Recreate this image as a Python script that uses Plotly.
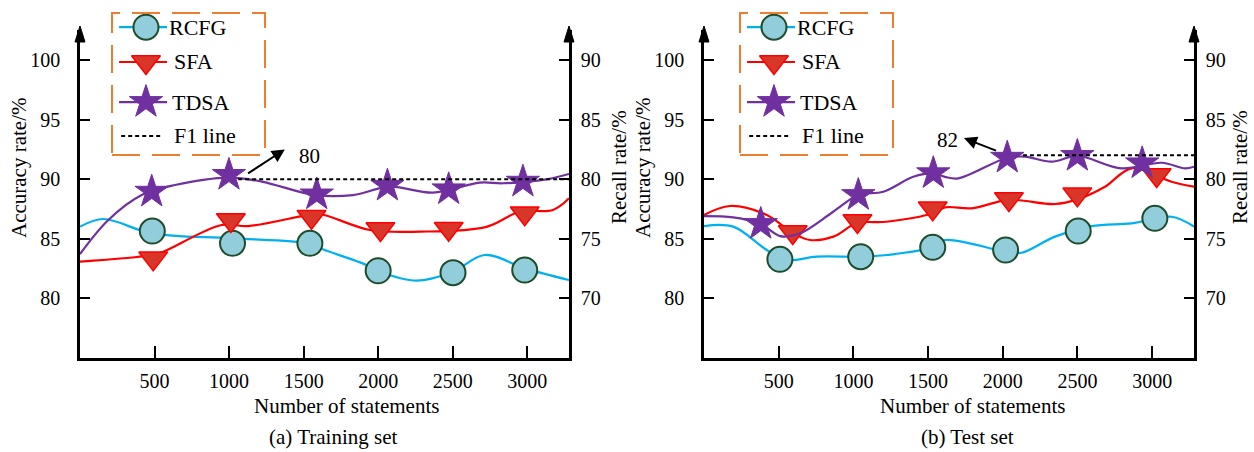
import plotly.graph_objects as go

# ---------------- data ----------------
x_ticks = [500, 1000, 1500, 2000, 2500, 3000]
acc_ticks = [80, 85, 90, 95, 100]
rec_ticks = [70, 75, 80, 85, 90]

# (a) Training set - markers
train_rcfg_x = [485, 1023, 1542, 2000, 2502, 2983]
train_rcfg_y = [85.65, 84.62, 84.62, 82.32, 82.16, 82.38]
train_sfa_x = [491, 1012, 1553, 2015, 2473, 2983]
train_sfa_y = [83.36, 86.58, 86.85, 85.82, 85.85, 87.14]
train_tdsa_x = [481, 999, 1588, 2062, 2473, 2971]
train_tdsa_y = [88.95, 90.36, 88.72, 89.45, 89.15, 89.79]
# (a) Training set - smooth curves
train_rcfg_cx = [0, 156, 481, 1017, 1530, 1609, 1922, 2000, 2257, 2502, 2714, 2983, 3280]
train_rcfg_cy = [86.02, 86.66, 85.46, 85.04, 84.62, 84.2, 82.8, 82.3, 81.49, 82.24, 83.64, 82.52, 81.54]
train_sfa_cx = [0, 481, 558, 950, 1128, 1530, 1609, 1944, 2279, 2726, 2949, 3172, 3280]
train_sfa_cy = [83.08, 83.64, 83.92, 86.16, 86.07, 87.0, 87.08, 85.74, 85.6, 86.0, 87.27, 87.42, 88.4]
train_tdsa_cx = [0, 190, 414, 637, 999, 1218, 1575, 1832, 2078, 2368, 2681, 2837, 3128, 3280]
train_tdsa_cy = [83.72, 86.58, 88.67, 89.51, 90.13, 89.8, 88.67, 88.67, 89.37, 88.87, 89.71, 89.66, 89.99, 90.44]
train_f1_x = [1061, 3280]
train_f1_y = [80, 80]

# (b) Test set - markers
test_rcfg_x = [508, 1049, 1531, 2019, 2505, 3018]
test_rcfg_y = [83.28, 83.5, 84.29, 84.06, 85.65, 86.72]
test_sfa_x = [594, 1027, 1531, 2041, 2499, 3030]
test_sfa_y = [85.57, 86.49, 87.56, 88.34, 88.73, 90.35]
test_tdsa_x = [380, 1033, 1535, 2030, 2499, 2933]
test_tdsa_y = [86.24, 88.67, 90.5, 91.8, 91.95, 91.33]
# (b) Test set - smooth curves
test_rcfg_cx = [0, 196, 420, 553, 754, 1049, 1223, 1531, 1613, 2019, 2126, 2349, 2595, 2863, 3130, 3280]
test_rcfg_cy = [86.07, 86.02, 84.06, 83.22, 83.5, 83.5, 83.64, 84.29, 84.9, 83.92, 83.83, 85.18, 86.07, 86.3, 86.85, 86.02]
test_sfa_cx = [0, 174, 420, 598, 710, 866, 1022, 1223, 1531, 1613, 1792, 2041, 2349, 2499, 2684, 2863, 3130, 3280]
test_sfa_cy = [87.0, 87.75, 87.0, 85.46, 84.9, 85.18, 86.3, 86.43, 87.14, 87.64, 87.56, 88.26, 87.92, 88.31, 89.37, 90.91, 89.79, 89.37]
test_tdsa_cx = [0, 196, 380, 509, 643, 865, 1033, 1200, 1401, 1535, 1613, 1702, 2030, 2149, 2327, 2499, 2796, 3064, 3220, 3280]
test_tdsa_cy = [86.91, 86.8, 86.24, 85.23, 85.46, 87.27, 88.67, 88.95, 90.2, 90.5, 90.2, 90.07, 91.8, 91.89, 91.47, 91.95, 90.91, 91.38, 90.91, 91.05]
test_f1_x = [2135, 3280]
test_f1_y = [82, 82]

# ---------------- style ----------------
W, H = 1254, 452
FONT = "Liberation Serif, Times New Roman, serif"
C_RCFG, C_SFA, C_TDSA = "#00B0F0", "#FF0000", "#7030A0"
ORANGE = "#ED7D31"

def px(p):
    return p / W

def py(p):
    return 1 - p / H

Y_DOM = [py(358), py(30)]
X_RANGE = [0, 3280]
ACC_RANGE = [75, 75 + (358 - 30) / 11.92]
REC_RANGE = [ACC_RANGE[0] - 10, ACC_RANGE[1] - 10]

MK = {
    "RCFG": dict(symbol="circle", size=25, color="#92CDDC", line=dict(color="#1E4D2B", width=2)),
    "SFA": dict(symbol="triangle-down", size=25, color="#D9362A", line=dict(color="#FF0000", width=1.5)),
    "TDSA": dict(symbol="star", size=25, color=C_TDSA, line=dict(color=C_TDSA, width=1)),
}
LC = {"RCFG": C_RCFG, "SFA": C_SFA, "TDSA": C_TDSA}

fig = go.Figure()

def add_series(name, cx, cy, mx, my, xa, ya):
    fig.add_trace(go.Scatter(x=cx, y=cy, mode="lines", xaxis=xa, yaxis=ya,
                             line=dict(color=LC[name], width=2.2, shape="spline", smoothing=1.0),
                             hoverinfo="skip", showlegend=False))
    fig.add_trace(go.Scatter(x=mx, y=my, mode="markers", xaxis=xa, yaxis=ya,
                             marker=MK[name], name=name, showlegend=False))

add_series("RCFG", train_rcfg_cx, train_rcfg_cy, train_rcfg_x, train_rcfg_y, "x", "y")
add_series("SFA", train_sfa_cx, train_sfa_cy, train_sfa_x, train_sfa_y, "x", "y")
add_series("TDSA", train_tdsa_cx, train_tdsa_cy, train_tdsa_x, train_tdsa_y, "x", "y")
fig.add_trace(go.Scatter(x=train_f1_x, y=train_f1_y, mode="lines", xaxis="x", yaxis="y2",
                         line=dict(color="black", width=2, dash="4px,3px"), showlegend=False))

add_series("RCFG", test_rcfg_cx, test_rcfg_cy, test_rcfg_x, test_rcfg_y, "x2", "y3")
add_series("SFA", test_sfa_cx, test_sfa_cy, test_sfa_x, test_sfa_y, "x2", "y3")
add_series("TDSA", test_tdsa_cx, test_tdsa_cy, test_tdsa_x, test_tdsa_y, "x2", "y3")
fig.add_trace(go.Scatter(x=test_f1_x, y=test_f1_y, mode="lines", xaxis="x2", yaxis="y4",
                         line=dict(color="black", width=2, dash="4px,3px"), showlegend=False))

# legend samples (own invisible axes)
leg_rows = {"RCFG": 0.90, "SFA": 0.655, "TDSA": 0.373}
for xa, ya in (("x3", "y5"), ("x4", "y6")):
    for name, r in leg_rows.items():
        fig.add_trace(go.Scatter(x=[0.046, 0.36], y=[r, r], mode="lines", xaxis=xa, yaxis=ya,
                                 line=dict(color=LC[name], width=2.2), showlegend=False, hoverinfo="skip"))
        fig.add_trace(go.Scatter(x=[0.222], y=[r], mode="markers", xaxis=xa, yaxis=ya,
                                 marker=MK[name], showlegend=False, hoverinfo="skip"))
    fig.add_trace(go.Scatter(x=[0.06, 0.33], y=[0.134, 0.134], mode="lines", xaxis=xa, yaxis=ya,
                             line=dict(color="black", width=2, dash="4px,3px"), showlegend=False, hoverinfo="skip"))

tickfont = dict(family=FONT, size=20, color="black")
common = dict(showline=True, linewidth=2.5, linecolor="black", ticks="inside", tickwidth=2,
              tickcolor="black", showgrid=False, zeroline=False, tickfont=tickfont)

def xax(dom, anchor):
    return dict(domain=dom, anchor=anchor, range=X_RANGE, tickvals=x_ticks, ticklen=12,
                ticklabelstandoff=3, **common)

def yax(anchor, rng, vals, side="left", overlay=None):
    d = dict(anchor=anchor, range=rng, tickvals=vals, ticklen=10, side=side,
             ticklabelstandoff=(13 if side == "left" else 5), **common)
    if overlay:
        d["overlaying"] = overlay
    else:
        d["domain"] = Y_DOM
    return d

hidden = dict(visible=False, range=[0, 1], showgrid=False, zeroline=False, fixedrange=True)

fig.update_layout(
    width=W, height=H, margin=dict(l=0, r=0, t=0, b=0),
    paper_bgcolor="white", plot_bgcolor="white", showlegend=False,
    font=dict(family=FONT, color="black"),
    xaxis=xax([px(80), px(569)], "y"),
    yaxis=yax("x", ACC_RANGE, acc_ticks),
    yaxis2=yax("x", REC_RANGE, rec_ticks, side="right", overlay="y"),
    xaxis2=xax([px(704), px(1194)], "y3"),
    yaxis3=yax("x2", ACC_RANGE, acc_ticks),
    yaxis4=yax("x2", REC_RANGE, rec_ticks, side="right", overlay="y3"),
    xaxis3=dict(domain=[px(112), px(265)], anchor="y5", **hidden),
    yaxis5=dict(domain=[py(155), py(13)], anchor="x3", **hidden),
    xaxis4=dict(domain=[px(740), px(893)], anchor="y6", **hidden),
    yaxis6=dict(domain=[py(155), py(13)], anchor="x4", **hidden),
)

shapes = []
# dashed legend boxes
for x0, x1 in ((112, 265), (740, 893)):
    shapes.append(dict(type="rect", xref="paper", yref="paper", x0=px(x0), x1=px(x1),
                       y0=py(155), y1=py(13), line=dict(color=ORANGE, width=2, dash="28px,12px"),
                       fillcolor="rgba(0,0,0,0)", layer="above"))
# arrowheads on vertical axes
for xa in (80, 569, 704, 1194):
    shapes.append(dict(type="path", xref="paper", yref="paper", xsizemode="pixel", ysizemode="pixel",
                       xanchor=px(xa), yanchor=py(26), path="M-5,-16 L0,0 L5,-16 Z",
                       fillcolor="black", line=dict(color="black", width=1)))
fig.update_layout(shapes=shapes)

ann = []
lf = dict(family=FONT, size=22, color="black")
for xa, ya in (("x3", "y5"), ("x4", "y6")):
    ann.append(dict(xref=xa, yref=ya, x=0.36, y=0.90, text="RCFG", showarrow=False, xanchor="left", yanchor="middle", font=lf))
    ann.append(dict(xref=xa, yref=ya, x=0.39, y=0.655, text="SFA", showarrow=False, xanchor="left", yanchor="middle", font=lf))
    ann.append(dict(xref=xa, yref=ya, x=0.38, y=0.373, text="TDSA", showarrow=False, xanchor="left", yanchor="middle", font=lf))
    ann.append(dict(xref=xa, yref=ya, x=0.395, y=0.134, text="F1 line", showarrow=False, xanchor="left", yanchor="middle", font=lf))

# F1 value annotations with arrows
af = dict(family=FONT, size=21, color="black")
ann.append(dict(xref="x", yref="y", x=1374, y=92.5, axref="x", ayref="y", ax=1117, ay=90.4,
                text="", showarrow=True, arrowhead=2, arrowsize=1.3, arrowwidth=2, arrowcolor="black"))
ann.append(dict(xref="x", yref="y", x=1541, y=91.95, text="80", showarrow=False, font=af))
ann.append(dict(xref="x2", yref="y3", x=1740, y=93.45, axref="x2", ayref="y3", ax=1965, ay=92.35,
                text="", showarrow=True, arrowhead=2, arrowsize=1.3, arrowwidth=2, arrowcolor="black"))
ann.append(dict(xref="x2", yref="y3", x=1631, y=93.3, text="82", showarrow=False, font=af))

tf = dict(family=FONT, size=21, color="black")
def pann(x, y, text, angle=0):
    return dict(xref="paper", yref="paper", x=px(x), y=py(y), text=text, textangle=angle,
                xanchor="center", yanchor="middle", showarrow=False, font=tf)

ann += [
    pann(346, 406, "Number of statements"),
    pann(333, 437, "(a) Training set"),
    pann(972, 406, "Number of statements"),
    pann(967, 437, "(b) Test set"),
    pann(19, 168, "Accuracy rate/%", -90),
    pann(619, 167, "Recall rate/%", -90),
    pann(643, 168, "Accuracy rate/%", -90),
    pann(1240, 167, "Recall rate/%", -90),
]
fig.update_layout(annotations=ann)

fig.write_html("out.html", config={"displayModeBar": False},
               post_script="document.body.style.margin='0';document.body.style.overflow='hidden';")
